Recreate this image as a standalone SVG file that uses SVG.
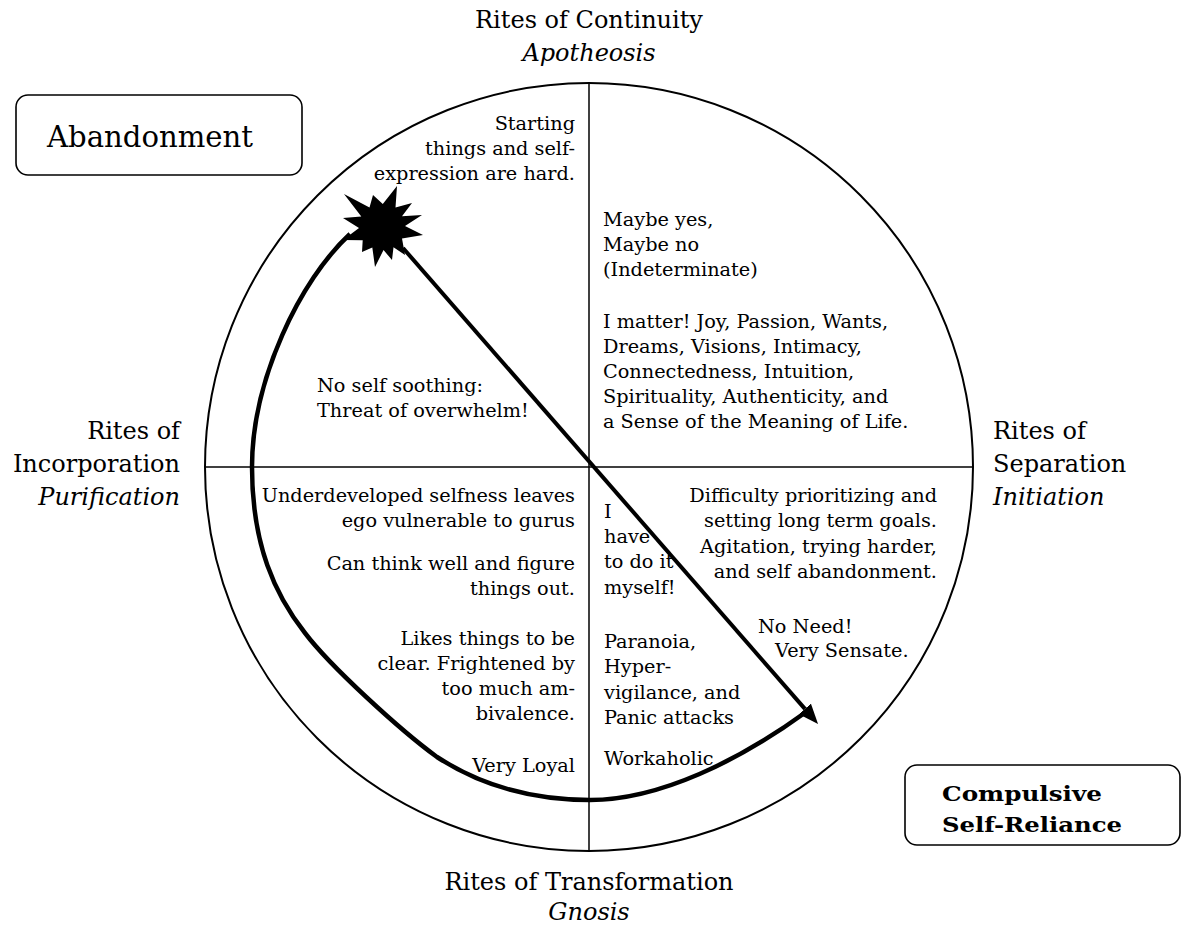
<svg xmlns="http://www.w3.org/2000/svg" width="1184" height="926" viewBox="0 0 1184 926">
<style>
.t{font-family:"DejaVu Serif","Liberation Serif",serif;font-size:19.3px;fill:#000}
.big{font-size:24px}
.it{font-style:italic}
.r{text-anchor:end}
.m{text-anchor:middle}
.box{fill:#fff;stroke:#000;stroke-width:1.6}
.thin{stroke:#000;stroke-width:1.5;fill:none}
.thick{stroke:#000;stroke-width:4.5;fill:none;stroke-linejoin:round}
</style>
<defs>
<marker id="ah" markerUnits="userSpaceOnUse" viewBox="0 0 20 16" refX="0" refY="8" markerWidth="20" markerHeight="16" orient="auto">
<path d="M0,0 L20,8 L0,16 z" fill="#000"/>
</marker>
</defs>
<rect width="1184" height="926" fill="#fff"/>
<g id="wheel">
<circle cx="589" cy="467" r="384" fill="none" stroke="#000" stroke-width="2"/>
<line class="thin" x1="589" y1="83" x2="589" y2="851"/>
<line class="thin" x1="205" y1="467" x2="973" y2="467"/>
</g>
<g id="labels">
<text class="t big m" x="589" y="28">Rites of Continuity</text>
<text class="t big m it" x="589" y="61">Apotheosis</text>
<text class="t big r" x="180" y="439">Rites of</text>
<text class="t big r" x="180" y="472">Incorporation</text>
<text class="t big r it" x="180" y="505">Purification</text>
<text class="t big" x="993" y="439">Rites of</text>
<text class="t big" x="993" y="472">Separation</text>
<text class="t big it" x="993" y="505">Initiation</text>
<text class="t big m" x="589" y="890">Rites of Transformation</text>
<text class="t big m it" x="589" y="920">Gnosis</text>
</g>
<g id="abandonment">
<rect class="box" x="16" y="95" width="286" height="80" rx="12"/>
<text class="t" x="47" y="147" style="font-size:29px" textLength="206" lengthAdjust="spacingAndGlyphs">Abandonment</text>
</g>
<g id="compulsive">
<rect class="box" x="905" y="765" width="275" height="80" rx="12"/>
<text class="t" x="942" y="801" style="font-size:21px;font-weight:bold" textLength="160" lengthAdjust="spacingAndGlyphs">Compulsive</text>
<text class="t" x="942" y="832" style="font-size:21px;font-weight:bold" textLength="180" lengthAdjust="spacingAndGlyphs">Self-Reliance</text>
</g>
<g id="quadrant-top-left">
<text class="t r" x="575" y="130">Starting</text>
<text class="t r" x="575" y="155">things and self-</text>
<text class="t r" x="575" y="179.5">expression are hard.</text>
<text class="t" x="317" y="392">No self soothing:</text>
<text class="t" x="317" y="417">Threat of overwhelm!</text>
</g>
<g id="quadrant-top-right">
<text class="t" x="603" y="226">Maybe yes,</text>
<text class="t" x="603" y="251">Maybe no</text>
<text class="t" x="603" y="276">(Indeterminate)</text>
<text class="t" x="603" y="328">I matter! Joy, Passion, Wants,</text>
<text class="t" x="603" y="353">Dreams, Visions, Intimacy,</text>
<text class="t" x="603" y="378">Connectedness, Intuition,</text>
<text class="t" x="603" y="403">Spirituality, Authenticity, and</text>
<text class="t" x="603" y="428">a Sense of the Meaning of Life.</text>
</g>
<g id="quadrant-bottom-left">
<text class="t r" x="575" y="502">Underdeveloped selfness leaves</text>
<text class="t r" x="575" y="527">ego vulnerable to gurus</text>
<text class="t r" x="575" y="570">Can think well and figure</text>
<text class="t r" x="575" y="595">things out.</text>
<text class="t r" x="575" y="645">Likes things to be</text>
<text class="t r" x="575" y="670">clear. Frightened by</text>
<text class="t r" x="575" y="695">too much am-</text>
<text class="t r" x="575" y="720">bivalence.</text>
<text class="t r" x="575" y="772">Very Loyal</text>
</g>
<g id="quadrant-bottom-right">
<text class="t" x="604" y="518">I</text>
<text class="t" x="604" y="543">have</text>
<text class="t" x="604" y="568">to do it</text>
<text class="t" x="604" y="594">myself!</text>
<text class="t" x="604" y="648">Paranoia,</text>
<text class="t" x="604" y="673">Hyper-</text>
<text class="t" x="604" y="699">vigilance, and</text>
<text class="t" x="604" y="724">Panic attacks</text>
<text class="t" x="604" y="765">Workaholic</text>
<text class="t r" x="937" y="502">Difficulty prioritizing and</text>
<text class="t r" x="937" y="527">setting long term goals.</text>
<text class="t r" x="937" y="552.5">Agitation, trying harder,</text>
<text class="t r" x="937" y="577.5">and self abandonment.</text>
<text class="t" x="758" y="633">No Need!</text>
<text class="t" x="775" y="657">Very Sensate.</text>
</g>
<g id="star">
<polygon fill="#000" points="397,186 395.5,207.5 412,203 402,216.2 422,215 405,226 423,235 402,238.5 405,255 393.5,247.3 392,260 383.5,250 375,267 372.3,247.4 362,252 362.7,240.3 343,240 359,228 343,218 361.3,216.6 344,194 369.5,207.4 373,195 382.8,204"/>
</g>
<g id="connectors">
<path class="thick" d="M 350 234 C 300 280, 252 380, 252 467 C 252 545, 275 595, 305 633 C 330 666, 400 730, 437 757 C 480 785, 530 800, 590 800 C 660 800, 740 760, 806 712"/>
<line x1="403" y1="248" x2="804.9" y2="708.9" stroke="#000" stroke-width="4" marker-end="url(#ah)"/>
</g>
</svg>
